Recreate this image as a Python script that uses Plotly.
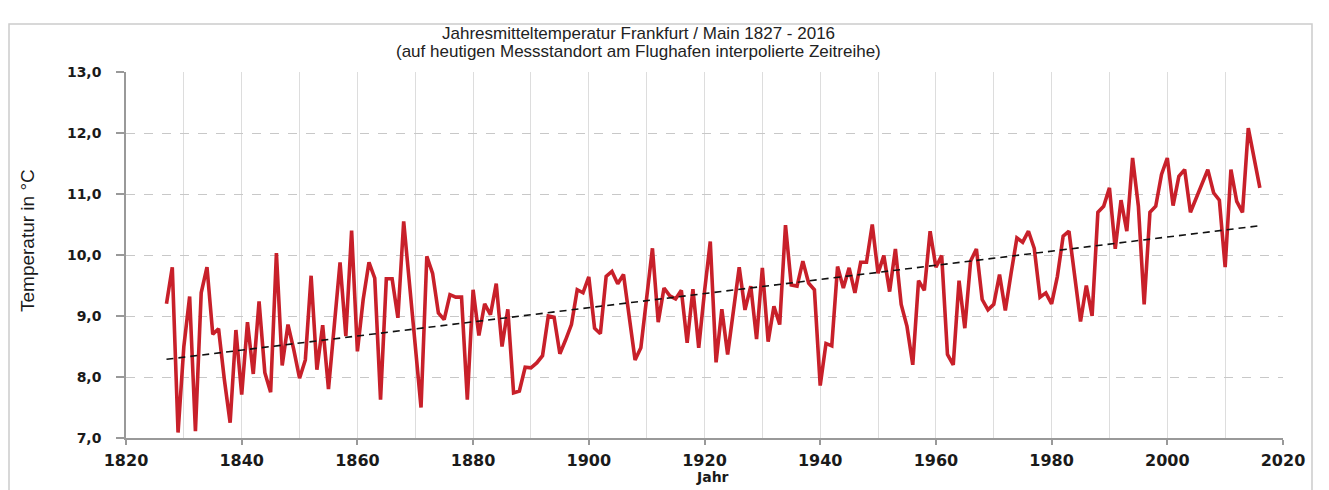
import plotly.graph_objects as go

years = list(range(1827, 2017))
temps = [
    9.20, 9.80, 7.09, 8.50, 9.32, 7.11, 9.38, 9.80, 8.70, 8.79,  # 1827-1836
    7.96, 7.25, 8.77, 7.71, 8.90, 8.05, 9.24, 8.07, 7.75, 10.03,  # 1837-1846
    8.19, 8.86, 8.45, 7.98, 8.28, 9.66, 8.12, 8.85, 7.80, 8.90,  # 1847-1856
    9.88, 8.67, 10.40, 8.42, 9.27, 9.88, 9.62, 7.63, 9.61, 9.61,  # 1857-1866
    8.97, 10.55, 9.50, 8.40, 7.50, 9.98, 9.70, 9.05, 8.94, 9.35,  # 1867-1876
    9.31, 9.31, 7.63, 9.43, 8.68, 9.20, 9.02, 9.53, 8.50, 9.11,  # 1877-1886
    7.74, 7.77, 8.16, 8.15, 8.23, 8.35, 9.00, 8.98, 8.38, 8.61,  # 1887-1896
    8.86, 9.43, 9.38, 9.64, 8.80, 8.71, 9.65, 9.73, 9.53, 9.68,  # 1897-1906
    8.95, 8.28, 8.48, 9.27, 10.11, 8.90, 9.46, 9.33, 9.28, 9.42,  # 1907-1916
    8.56, 9.44, 8.48, 9.40, 10.22, 8.24, 9.11, 8.37, 9.10, 9.80,  # 1917-1926
    9.10, 9.49, 8.62, 9.79, 8.58, 9.16, 8.86, 10.49, 9.51, 9.49,  # 1927-1936
    9.90, 9.54, 9.43, 7.86, 8.55, 8.51, 9.81, 9.46, 9.79, 9.38,  # 1937-1946
    9.88, 9.88, 10.50, 9.70, 9.99, 9.40, 10.10, 9.19, 8.83, 8.20,  # 1947-1956
    9.58, 9.42, 10.39, 9.80, 9.99, 8.37, 8.20, 9.58, 8.80, 9.90,  # 1957-1966
    10.10, 9.27, 9.10, 9.19, 9.68, 9.09, 9.70, 10.28, 10.21, 10.39,  # 1967-1976
    10.11, 9.31, 9.38, 9.20, 9.65, 10.31, 10.39, 9.60, 8.91, 9.50,  # 1977-1986
    9.00, 10.70, 10.80, 11.10, 10.10, 10.90, 10.39, 11.59, 10.80, 9.19,  # 1987-1996
    10.70, 10.80, 11.32, 11.59, 10.81, 11.29, 11.40, 10.70, 10.93, 11.15,  # 1997-2006
    11.40, 11.02, 10.90, 9.80, 11.40, 10.88, 10.70, 12.08, 11.62, 11.10,  # 2007-2016
]
trend_years = [1827, 2016]
trend_values = [8.29, 10.48]

x_ticks = [1820, 1840, 1860, 1880, 1900, 1920, 1940, 1960, 1980, 2000, 2020]
y_ticks = [7.0, 8.0, 9.0, 10.0, 11.0, 12.0, 13.0]
y_labels = ["7,0", "8,0", "9,0", "10,0", "11,0", "12,0", "13,0"]

title_line1 = "Jahresmitteltemperatur Frankfurt / Main 1827 - 2016"
title_line2 = "(auf heutigen Messstandort am Flughafen interpolierte Zeitreihe)"
x_title = "Jahr"
y_title = "Temperatur in °C"

# The page body has an 8px margin; the figure is sized so the plot area
# lands at page pixels x 126..1283, y 72..438.
W, H = 1321, 482
ML, MR, MT, MB = 118, 46, 64, 52
PW, PH = W - ML - MR, H - MT - MB


def px(xpage):
    return (xpage - 8 - ML) / PW


def py(ypage):
    return 1 - (ypage - 8 - MT) / PH


fig = go.Figure()
fig.add_trace(go.Scatter(
    x=years, y=temps, mode="lines",
    line=dict(color="#c8202a", width=3.6),
    showlegend=False, hoverinfo="x+y",
))
fig.add_trace(go.Scatter(
    x=trend_years, y=trend_values, mode="lines",
    line=dict(color="#111111", width=1.6, dash="7px,5px"),
    showlegend=False, hoverinfo="skip",
))

fig.update_layout(
    width=W, height=H,
    margin=dict(l=ML, r=MR, t=MT, b=MB, autoexpand=False),
    paper_bgcolor="white", plot_bgcolor="white",
    font=dict(family="DejaVu Sans", color="#1a1a1a"),
)

title_font = dict(family="Liberation Sans, Arial", size=17, color="#222222")
fig.add_annotation(text=title_line1, xref="paper", yref="paper",
                   x=px(638.5), y=py(33), xanchor="center", yanchor="middle",
                   showarrow=False, font=title_font)
fig.add_annotation(text=title_line2, xref="paper", yref="paper",
                   x=px(638), y=py(52), xanchor="center", yanchor="middle",
                   showarrow=False, font=title_font)
fig.add_annotation(text=y_title, xref="paper", yref="paper",
                   x=px(28), y=py(241), xanchor="center", yanchor="middle",
                   textangle=-90, showarrow=False,
                   font=dict(family="Liberation Sans, Arial", size=19, color="#1a1a1a"))
fig.add_annotation(text=x_title, xref="paper", yref="paper",
                   x=px(712), y=py(477), xanchor="center", yanchor="middle",
                   showarrow=False,
                   font=dict(family="DejaVu Sans", size=14, weight="bold", color="#1a1a1a"))

fig.update_xaxes(
    range=[1820, 2020], tickvals=x_ticks,
    ticks="outside", ticklen=5, tickcolor="#999999", tickwidth=1.5,
    showline=True, linecolor="#999999", linewidth=1.5,
    showgrid=True, gridcolor="#dddddd", gridwidth=1,
    minor=dict(dtick=10, tick0=1820, showgrid=True, gridcolor="#dddddd", gridwidth=1),
    tickfont=dict(family="DejaVu Sans", size=16, weight="bold", color="#1a1a1a"),
    ticklabelstandoff=2,
    zeroline=False,
)
fig.update_yaxes(
    range=[7.0, 13.0], tickvals=y_ticks, ticktext=y_labels,
    ticks="outside", ticklen=8, tickcolor="#999999", tickwidth=1.5,
    showline=True, linecolor="#999999", linewidth=1.5,
    showgrid=True, gridcolor="#c8c8c8", gridwidth=1, griddash="dash",
    tickfont=dict(family="DejaVu Sans", size=14, weight="bold", color="#1a1a1a"),
    ticklabelstandoff=12,
    zeroline=False,
)

# outer frame of the figure panel
fig.add_shape(type="rect", xref="paper", yref="paper",
              x0=px(9), x1=px(1312), y0=py(520), y1=py(24),
              line=dict(color="#cccccc", width=1.5), layer="below")

fig.write_html("out.html")
